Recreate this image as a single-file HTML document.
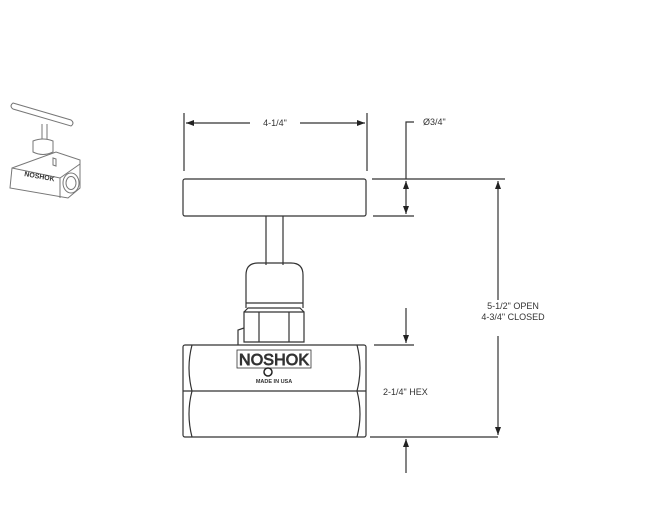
<!DOCTYPE html>
<html><head><style>
html,body{margin:0;padding:0;background:#fff;width:650px;height:532px;overflow:hidden}
svg{display:block}
text{font-family:"Liberation Sans",sans-serif;fill:#333}
</style></head><body>
<svg width="650" height="532" viewBox="0 0 650 532" xmlns="http://www.w3.org/2000/svg">
<defs>
<marker id="a" markerWidth="8" markerHeight="6" refX="8" refY="3" orient="auto" markerUnits="userSpaceOnUse"><path d="M0,0 L8,3 L0,6z" fill="#222"/></marker>
</defs>
<g stroke="#333" fill="none" stroke-width="1.2">
<!-- small iso thumbnail -->
<g stroke="#777" stroke-width="1" fill="#fff">
<path d="M12,168 L56,152 L80,160 L80,188 L68,198 L10,188z"/>
<path d="M12,168 L60,178 L80,164 M60,178 L60,198"/>
<ellipse cx="71" cy="183" rx="8" ry="10"/><ellipse cx="71" cy="183" rx="5" ry="6.5"/>
<path d="M53,158 L53,165 L56,166 L56,159z"/>
<path d="M33,141 L33,152 Q43,157 53,152 L53,141 Q43,137 33,141z"/>
<path d="M42,124 L42,139 M47,124 L47,139"/>
<path d="M13,103 L71,120 Q75,123 71,126 L13,109 Q9,106 13,103z"/>
</g>
<text x="24" y="176" font-size="7" font-weight="bold" stroke="none" transform="rotate(10 24 176)">NOSHOK</text>
<!-- handle -->
<rect x="183" y="179" width="183" height="37" rx="2"/>
<path d="M266,216 L266,265 M283,216 L283,265"/>
<path d="M246,308 L246,275 Q246,263 258,263 L291,263 Q303,263 303,275 L303,308"/>
<path d="M246,303 L303,303"/>
<path d="M244,312 L304,312 L304,342 L244,342z M244,312 L248,308 L300,308 L304,312 M259,312 L259,342 M289,312 L289,342"/>
<path d="M238,345 L238,330 L244,328"/>
<!-- body -->
<rect x="183" y="345" width="183" height="92" rx="2"/>
<path d="M183,391 L366,391"/>
<path d="M192,345 Q186,368 192,391 Q186,414 192,437 M357,345 Q363,368 357,391 Q363,414 357,437"/>
<!-- dims -->
<path d="M184,113 L184,171 M367,113 L367,171"/>
<path d="M250,123 L186,123" marker-end="url(#a)"/>
<path d="M300,123 L365,123" marker-end="url(#a)"/>
<path d="M414,122 L406,122 L406,179" />
<path d="M406,198 L406,181" marker-end="url(#a)"/>
<path d="M406,198 L406,214" marker-end="url(#a)"/>
<path d="M372,179 L505,179 M373,216 L414,216 M374,345 L414,345 M370,437 L498,437"/>
<path d="M498,300 L498,181" marker-end="url(#a)"/>
<path d="M498,336 L498,435" marker-end="url(#a)"/>
<path d="M406,308 L406,343" marker-end="url(#a)"/>
<path d="M406,473 L406,439" marker-end="url(#a)"/>
</g>
<rect x="237" y="350" width="74" height="18" fill="none" stroke="#333" stroke-width="0.8"/>
<text x="274" y="365" font-size="16" text-anchor="middle" fill="#fff" stroke="#333" stroke-width="0.9" textLength="70">NOSHOK</text>
<circle cx="268" cy="372" r="4" fill="none" stroke="#222" stroke-width="1.5"/>
<text x="274" y="383" font-size="5.5" font-weight="bold" text-anchor="middle">MADE  IN  USA</text>
<text x="275" y="126" font-size="9" text-anchor="middle">4-1/4"</text>
<text x="423" y="125" font-size="9">Ø3/4"</text>
<text x="513" y="309" font-size="9" text-anchor="middle">5-1/2" OPEN</text>
<text x="513" y="320" font-size="9" text-anchor="middle">4-3/4" CLOSED</text>
<text x="383" y="395" font-size="9">2-1/4" HEX</text>
</svg>
</body></html>
